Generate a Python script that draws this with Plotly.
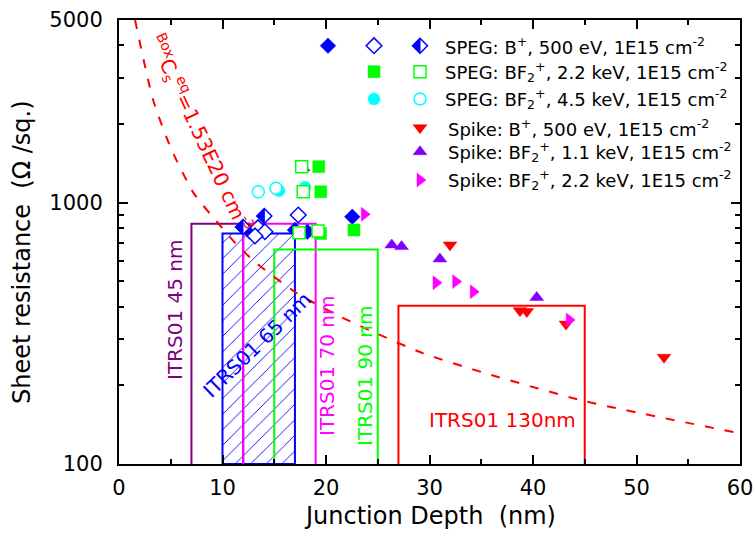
import math
import plotly.graph_objects as go

# ---------------- data ----------------
# SPEG: B+, 500 eV  (filled / open / half-filled diamonds)
speg_b_filled_x = [22.54, 12.66, 17.0, 18.2]
speg_b_filled_y = [883, 773, 786, 774]
speg_b_open_x = [17.32, 13.43, 14.1, 13.14]
speg_b_open_y = [897, 802, 774, 746]
speg_b_half_x = [14.04, 11.98]
speg_b_half_y = [889, 807]

# SPEG: BF2+, 2.2 keV (filled / open squares)
speg_bf2_22_filled_x = [19.3, 19.5, 19.47, 22.7]
speg_bf2_22_filled_y = [1373, 1101, 762, 786]
speg_bf2_22_open_x = [17.65, 17.8, 17.4, 19.23]
speg_bf2_22_open_y = [1373, 1101, 767, 779]

# SPEG: BF2+, 4.5 keV (filled / open circles)
speg_bf2_45_filled_x = [15.46, 17.97]
speg_bf2_45_filled_y = [1111, 1145]
speg_bf2_45_open_x = [13.46, 15.17]
speg_bf2_45_open_y = [1101, 1135]

# Spike anneals
spike_b_x = [31.98, 38.74, 39.4, 43.19, 52.66]
spike_b_y = [689, 386, 383, 343, 256]
spike_bf2_11_x = [26.35, 27.3, 31.0, 40.36, 17.8]
spike_bf2_11_y = [689, 679, 609, 434, 1358]
spike_bf2_22_x = [23.7, 30.63, 32.53, 34.23, 43.5]
spike_bf2_22_y = [903, 494, 499, 456, 356]

# Box-profile curve (Cs eq = 1.53E20 cm-3)
curve_x = [1.55, 3.3, 5.0, 7.2, 9.4, 11.4, 13.3, 17.2, 21.4, 25.2, 29.4, 35.5, 45.0, 60.0]
curve_y = [5000, 2470, 1620, 1090, 850, 690, 586, 450, 366, 312, 265, 222, 174, 131]

# ITRS01 boxes: name, x from, x to, max sheet resistance
itrs_names = ["ITRS01 45 nm", "ITRS01 65 nm", "ITRS01 70 nm", "ITRS01 90 nm", "ITRS01 130nm"]
itrs_x0 = [7, 10, 12, 15, 27]
itrs_x1 = [12, 17, 19, 25, 45]
itrs_top = [830, 762, 830, 662, 403]

y_tickvals = [100, 1000, 5000]
y_ticktext = ["100", "1000", "5000"]
y_minor = [200, 300, 400, 500, 600, 700, 800, 900, 2000, 3000, 4000]

legend_texts = [
    "SPEG: B<sup>+</sup>, 500 eV, 1E15 cm<sup>-2</sup>",
    "SPEG: BF<sub>2</sub><sup>+</sup>, 2.2 keV, 1E15 cm<sup>-2</sup>",
    "SPEG: BF<sub>2</sub><sup>+</sup>, 4.5 keV, 1E15 cm<sup>-2</sup>",
    "Spike: B<sup>+</sup>, 500 eV, 1E15 cm<sup>-2</sup>",
    "Spike: BF<sub>2</sub><sup>+</sup>, 1.1 keV, 1E15 cm<sup>-2</sup>",
    "Spike: BF<sub>2</sub><sup>+</sup>, 2.2 keV, 1E15 cm<sup>-2</sup>",
]

# ---------------- styling ----------------
FONT = "DejaVu Sans"
BLUE = "#0000FF"
GREEN = "#00FF00"
CYAN = "#00FFFF"
RED = "#FF0000"
VIOLET = "#8000FF"
MAGENTA = "#FF00FF"
PURPLE = "#800080"
box_colors = [PURPLE, BLUE, MAGENTA, GREEN, RED]
MS = 12

fig = go.Figure()

# hatched 65 nm box
i = 1
fig.add_trace(go.Scatter(
    x=[itrs_x0[i], itrs_x0[i], itrs_x1[i], itrs_x1[i], itrs_x0[i]],
    y=[100, itrs_top[i], itrs_top[i], 100, 100],
    mode="lines", fill="toself", fillcolor="white",
    fillpattern=dict(shape="/", fgcolor=BLUE, bgcolor="white", fgopacity=1,
                     size=11, solidity=0.08),
    line=dict(color=BLUE, width=2), hoverinfo="skip", showlegend=False))

# other boxes (open at bottom)
for i in [0, 2, 3, 4]:
    fig.add_trace(go.Scatter(
        x=[itrs_x0[i], itrs_x0[i], itrs_x1[i], itrs_x1[i]],
        y=[100, itrs_top[i], itrs_top[i], 100],
        mode="lines", line=dict(color=box_colors[i], width=2),
        hoverinfo="skip", showlegend=False))

# dashed curve
fig.add_trace(go.Scatter(x=curve_x, y=curve_y, mode="lines",
                         line=dict(color=RED, width=2, dash="9px,11px", shape="spline", smoothing=0.6),
                         showlegend=False))


def mk(x, y, symbol, color, open_=False, xaxis="x", yaxis="y"):
    if open_:
        marker = dict(symbol=symbol, size=MS, color="white", line=dict(color=color, width=1.5))
    else:
        marker = dict(symbol=symbol, size=MS, color=color, line=dict(color=color, width=0.5))
    return go.Scatter(x=x, y=y, mode="markers", marker=marker, showlegend=False,
                      xaxis=xaxis, yaxis=yaxis)


fig.add_trace(mk(spike_b_x, spike_b_y, "triangle-down", RED))
fig.add_trace(mk(spike_bf2_11_x, spike_bf2_11_y, "triangle-up", VIOLET))
fig.add_trace(mk(spike_bf2_22_x, spike_bf2_22_y, "triangle-right", MAGENTA))
fig.add_trace(mk(speg_b_filled_x, speg_b_filled_y, "diamond", BLUE))
fig.add_trace(mk(speg_bf2_22_filled_x, speg_bf2_22_filled_y, "square", GREEN))
fig.add_trace(mk(speg_bf2_45_filled_x, speg_bf2_45_filled_y, "circle", CYAN))
fig.add_trace(mk(speg_b_open_x, speg_b_open_y, "diamond", BLUE, True))
fig.add_trace(mk(speg_bf2_22_open_x, speg_bf2_22_open_y, "square", GREEN, True))
fig.add_trace(mk(speg_bf2_45_open_x, speg_bf2_45_open_y, "circle", CYAN, True))

# half-filled diamonds (pixel-sized shapes anchored at data points)
H = 7.5
outline = f"M {-H},0 L 0,{H} L {H},0 L 0,{-H} Z"
lefthalf = f"M {-H},0 L 0,{H} L 0,{-H} Z"


def half_diamond(xref, yref, xa, ya):
    fig.add_shape(type="path", xref=xref, yref=yref, xsizemode="pixel", ysizemode="pixel",
                  xanchor=xa, yanchor=ya, path=outline, fillcolor="white",
                  line=dict(color=BLUE, width=1.5), layer="above")
    fig.add_shape(type="path", xref=xref, yref=yref, xsizemode="pixel", ysizemode="pixel",
                  xanchor=xa, yanchor=ya, path=lefthalf, fillcolor=BLUE,
                  line=dict(color=BLUE, width=1), layer="above")


for xv, yv in zip(speg_b_half_x, speg_b_half_y):
    half_diamond("x", "y", xv, yv)

# ---------------- legend (drawn on an overlay 0..1 axis) ----------------
L, T, R, B = 119, 20, 740, 464
W, Hh = R - L, B - T


def px(p):
    return (p - L) / W


def py(p):
    return (B - p) / Hh


row_y = [py(v) for v in [45.7, 71.7, 99.0, 127.7, 151.7, 180.0]]
c1, c2, c3 = px(328), px(374), px(420)
fig.add_trace(mk([c1], [row_y[0]], "diamond", BLUE, xaxis="x2", yaxis="y2"))
fig.add_trace(mk([c2], [row_y[0]], "diamond", BLUE, True, xaxis="x2", yaxis="y2"))
half_diamond("paper", "paper", c3, row_y[0])
fig.add_trace(mk([c2], [row_y[1]], "square", GREEN, xaxis="x2", yaxis="y2"))
fig.add_trace(mk([c3], [row_y[1]], "square", GREEN, True, xaxis="x2", yaxis="y2"))
fig.add_trace(mk([c2], [row_y[2]], "circle", CYAN, xaxis="x2", yaxis="y2"))
fig.add_trace(mk([c3], [row_y[2]], "circle", CYAN, True, xaxis="x2", yaxis="y2"))
fig.add_trace(mk([c3], [row_y[3]], "triangle-down", RED, xaxis="x2", yaxis="y2"))
fig.add_trace(mk([c3], [row_y[4]], "triangle-up", VIOLET, xaxis="x2", yaxis="y2"))
fig.add_trace(mk([c3], [row_y[5]], "triangle-right", MAGENTA, xaxis="x2", yaxis="y2"))

annotations = []
for k, txt in enumerate(legend_texts):
    annotations.append(dict(text=txt, xref="paper", yref="paper",
                            x=px(443 if k < 3 else 446), y=row_y[k],
                            xanchor="left", yanchor="middle", showarrow=False,
                            font=dict(family=FONT, size=18, color="black")))

# box labels
label_pos = [(175, 310, -90), (257, 345, -44), (327, 366, -90), (365, 376, -90), (502, 420, 0)]
for k, (lx, ly, ang) in enumerate(label_pos):
    annotations.append(dict(text=itrs_names[k], xref="paper", yref="paper", x=px(lx), y=py(ly),
                            textangle=ang, showarrow=False, xanchor="center", yanchor="middle",
                            font=dict(family=FONT, size=20, color=box_colors[k])))

# curve label
annotations.append(dict(text="<sup>Box</sup>C<sub>s</sub><sup>eq</sup>=1.53E20 cm<sup>-3</sup>",
                        xref="paper", yref="paper", x=px(200), y=py(133), textangle=65,
                        showarrow=False, xanchor="center", yanchor="middle",
                        font=dict(family=FONT, size=20, color=RED)))

# axis titles
annotations.append(dict(text="Junction Depth  (nm)", xref="paper", yref="paper", x=0.5, y=py(516),
                        showarrow=False, xanchor="center", yanchor="middle",
                        font=dict(family=FONT, size=24, color="black")))
annotations.append(dict(text="Sheet resistance  (Ω /sq.)", xref="paper", yref="paper", x=px(22),
                        y=py(252), textangle=-90, showarrow=False, xanchor="center", yanchor="middle",
                        font=dict(family=FONT, size=24, color="black")))

axis_common = dict(showline=True, linecolor="black", linewidth=2, mirror="allticks",
                   ticks="inside", ticklen=9, tickwidth=2, tickcolor="black",
                   showgrid=False, zeroline=False, automargin=False,
                   tickfont=dict(family=FONT, size=21, color="black"))

fig.update_layout(
    width=754, height=534,
    margin=dict(l=L, r=754 - R, t=T, b=534 - B),
    paper_bgcolor="white", plot_bgcolor="white",
    showlegend=False,
    xaxis=dict(range=[0, 60], tickmode="array", tickvals=[0, 10, 20, 30, 40, 50, 60],
               minor=dict(tickvals=[5, 15, 25, 35, 45, 55], ticks="inside", ticklen=5,
                          tickwidth=2, tickcolor="black"),
               ticklabelstandoff=4, **axis_common),
    yaxis=dict(type="log", range=[2, math.log10(5000)], tickmode="array",
               tickvals=y_tickvals, ticktext=y_ticktext,
               minor=dict(tickvals=y_minor, ticks="inside", ticklen=5, tickwidth=2,
                          tickcolor="black"),
               ticklabelstandoff=10, **axis_common),
    xaxis2=dict(overlaying="x", range=[0, 1], visible=False),
    yaxis2=dict(overlaying="y", range=[0, 1], visible=False),
    annotations=annotations,
)

fig.write_html("out.html", config={"displayModeBar": False},
               post_script="document.body.style.margin='0px';document.body.style.overflow='hidden';")
